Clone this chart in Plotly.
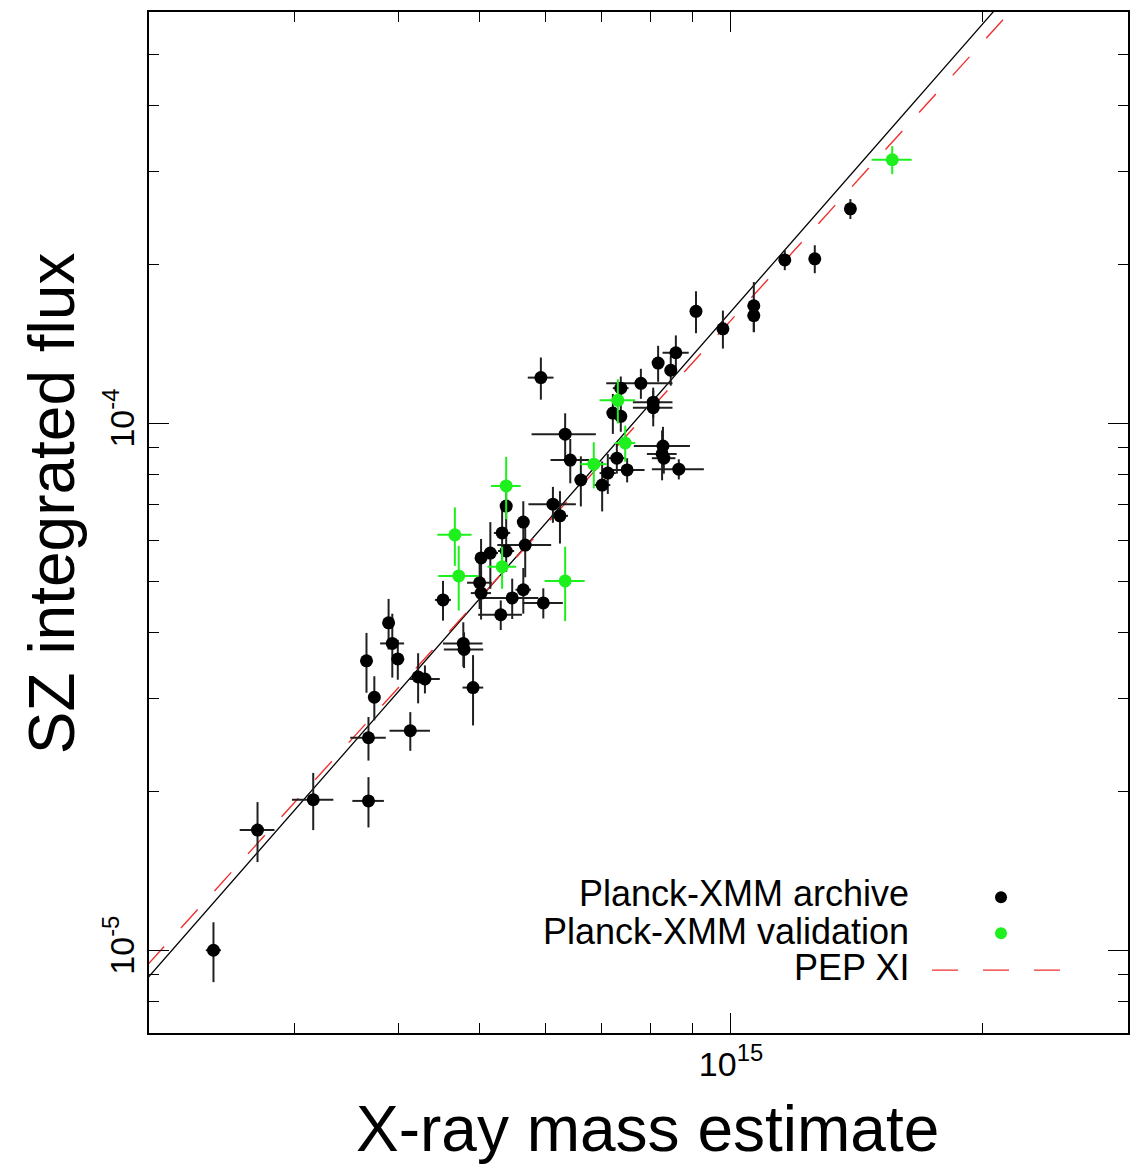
import plotly.graph_objects as go

# ---------------- data (mass in 1e14, flux in 1e-5) ----------------
arch_M = [2.40, 2.71, 3.16, 3.68, 3.68, 3.74, 3.66, 3.89, 3.93, 3.99, 4.52, 4.13, 4.22, 4.30,
          4.78, 4.79, 4.91, 5.00, 5.02, 5.15, 5.02, 5.38, 5.30, 5.38, 5.64, 5.32, 5.67, 5.47,
          5.64, 5.96, 5.92, 6.33, 6.42, 6.12, 6.24, 6.61, 7.01, 7.12, 7.30, 7.51, 7.22, 7.38,
          7.38, 7.80, 8.18, 8.47, 8.59, 8.07, 8.07, 8.29, 8.27, 8.31, 8.66, 9.08, 9.78, 10.65,
          10.65, 11.6, 12.6, 13.9]
arch_Y = [1.00, 1.69, 1.93, 1.92, 2.53, 3.02, 3.54, 4.18, 3.82, 3.57, 4.62, 2.61, 3.30, 3.27,
          3.82, 3.72, 3.15, 4.98, 4.76, 5.67, 5.55, 5.72, 4.33, 6.96, 6.49, 6.19, 5.87, 4.66,
          4.83, 4.56, 12.2, 9.53, 8.51, 7.02, 6.67, 7.80, 7.63, 8.04, 8.58, 8.15, 10.45, 10.3,
          11.65, 11.9, 13.0, 12.6, 13.6, 10.96, 10.7, 9.05, 8.74, 8.58, 8.18, 16.3, 15.1, 16.7,
          16.0, 20.4, 20.5, 25.5]
arch_Merr = [0.05, 0.13, 0.18, 0.16, 0.18, 0.06, 0.06, 0.05, 0.13, 0.07, 0.10, 0.23, 0.06, 0.18,
             0.26, 0.26, 0.14, 0.17, 0.14, 0.11, 0.08, 0.12, 0.32, 0.09, 0.09, 0.12, 0.42, 0.41,
             0.12, 0.33, 0.21, 0.56, 0.34, 0.40, 0.14, 0.11, 0.16, 0.16, 0.16, 0.37, 0.12, 0.12,
             0.16, 0.71, 0.11, 0.12, 0.31, 0.44, 0.44, 0.64, 0.34, 0.27, 0.62, 0.10, 0.16, 0.18,
             0.18, 0.16, 0.17, 0.15]
arch_Yerr = [0.13, 0.22, 0.24, 0.21, 0.24, 0.29, 0.46, 0.46, 0.53, 0.31, 0.40, 0.22, 0.36, 0.20,
             0.37, 0.29, 0.48, 0.54, 0.52, 0.82, 0.48, 0.50, 0.28, 0.76, 0.62, 0.68, 0.77, 0.41,
             0.48, 0.30, 1.12, 0.91, 0.82, 0.55, 0.76, 0.85, 0.83, 0.70, 0.56, 0.43, 0.91, 0.67,
             0.61, 0.78, 1.02, 0.82, 1.07, 0.72, 0.84, 0.79, 0.95, 0.56, 0.36, 1.49, 1.25, 1.82,
             1.12, 0.89, 1.25, 1.11]

val_M = [4.67, 4.72, 5.38, 5.32, 6.33, 6.85, 7.32, 7.47, 15.6]
val_Y = [6.14, 5.13, 7.60, 5.34, 5.02, 8.36, 11.05, 9.17, 31.6]
val_Merr = [0.22, 0.26, 0.22, 0.21, 0.35, 0.25, 0.36, 0.21, 0.86]
val_Yerr = [0.78, 0.72, 1.03, 0.49, 0.81, 0.84, 1.06, 0.72, 1.93]

# power-law relations Y = norm * (M / pivot)^slope
pivot_M = 6e14
fit_norm, fit_slope = 6.46e-5, 1.81
pep_norm, pep_slope = 6.41e-5, 1.75
line_M = [2.0e14, 3.2e15]

legend_labels = ["Planck-XMM archive", "Planck-XMM validation", "PEP XI"]

M_SCALE, Y_SCALE = 1e14, 1e-5
BLACK = "#000000"
GREEN = "#1ef01e"
RED = "#f03030"
FONT = "Liberation Sans, Arial, Helvetica, sans-serif"

def sc(v, s):
    return [a * s for a in v]

fig = go.Figure()

fig.add_trace(go.Scatter(
    x=line_M, y=[fit_norm * (m / pivot_M) ** fit_slope for m in line_M],
    mode="lines", line=dict(color=BLACK, width=1.3), showlegend=False))
fig.add_trace(go.Scatter(
    x=line_M, y=[pep_norm * (m / pivot_M) ** pep_slope for m in line_M],
    mode="lines", line=dict(color=RED, width=1.4, dash="25px,25px"), showlegend=False))

fig.add_trace(go.Scatter(
    x=sc(arch_M, M_SCALE), y=sc(arch_Y, Y_SCALE), mode="markers",
    marker=dict(color=BLACK, size=13),
    error_x=dict(type="data", array=sc(arch_Merr, M_SCALE), color="#202020", thickness=2, width=0),
    error_y=dict(type="data", array=sc(arch_Yerr, Y_SCALE), color="#202020", thickness=2, width=0),
    showlegend=False))
fig.add_trace(go.Scatter(
    x=sc(val_M, M_SCALE), y=sc(val_Y, Y_SCALE), mode="markers",
    marker=dict(color=GREEN, size=13),
    error_x=dict(type="data", array=sc(val_Merr, M_SCALE), color=GREEN, thickness=2, width=0),
    error_y=dict(type="data", array=sc(val_Yerr, Y_SCALE), color=GREEN, thickness=2, width=0),
    showlegend=False))

axis_common = dict(
    type="log", showgrid=False, zeroline=False, showline=True, linecolor=BLACK, linewidth=1.5,
    mirror="allticks", ticks="inside", ticklen=20, tickwidth=1.2, tickcolor=BLACK,
    tickfont=dict(family=FONT, size=34, color=BLACK),
)

fig.update_xaxes(
    **axis_common, range=[14.303, 15.4755],
    tickvals=[1e15], ticktext=["10<sup>15</sup>"],
    minor=dict(ticks="inside", ticklen=10, tickwidth=1.2, tickcolor=BLACK,
               tickvals=[3e14, 4e14, 5e14, 6e14, 7e14, 8e14, 9e14, 2e15]),
)
fig.update_yaxes(
    **axis_common, range=[-5.157, -3.220],
    tickvals=[1e-5, 1e-4], ticktext=["10<sup>-5</sup>", "10<sup>-4</sup>"], tickangle=-90,
    minor=dict(ticks="inside", ticklen=10, tickwidth=1.2, tickcolor=BLACK,
               tickvals=[8e-6, 9e-6, 2e-5, 3e-5, 4e-5, 5e-5, 6e-5, 7e-5, 8e-5, 9e-5,
                         2e-4, 3e-4, 4e-4, 5e-4]),
)

annotations = [
    dict(text="X-ray mass estimate", xref="paper", yref="paper", x=0.5097, y=-0.1305,
         xanchor="center", yanchor="bottom", showarrow=False, borderpad=0,
         font=dict(family=FONT, size=64, color=BLACK)),
    dict(text="SZ integrated flux", xref="paper", yref="paper", x=-0.099, y=0.519,
         xanchor="center", yanchor="middle", showarrow=False, textangle=-90,
         font=dict(family=FONT, size=64, color=BLACK)),
]
leg_y = [0.1369, 0.0997, 0.0645]
for lab, yy in zip(legend_labels, leg_y):
    annotations.append(dict(text=lab, xref="paper", yref="paper", x=0.7775, y=yy,
                            xanchor="right", yanchor="middle", showarrow=False, borderpad=0,
                            font=dict(family=FONT, size=36, color=BLACK)))

shapes = []
dx, dy = 6 / 979, 6 / 1023
for col, (cx, cy) in zip([BLACK, GREEN], [(0.8703, 0.1329), (0.8703, 0.0978)]):
    shapes.append(dict(type="circle", xref="paper", yref="paper",
                       x0=cx - dx, x1=cx + dx, y0=cy - dy, y1=cy + dy,
                       fillcolor=col, line=dict(width=0)))
shapes.append(dict(type="line", xref="paper", yref="paper", x0=0.7998, x1=0.9326,
                   y0=0.0616, y1=0.0616, line=dict(color=RED, width=1.4, dash="26px,25px")))

fig.update_layout(
    width=1140, height=1164, margin=dict(l=149, r=12, t=10, b=131),
    paper_bgcolor="white", plot_bgcolor="white",
    annotations=annotations, shapes=shapes, showlegend=False,
    font=dict(family=FONT, color=BLACK),
)

fig.write_html("out.html")
